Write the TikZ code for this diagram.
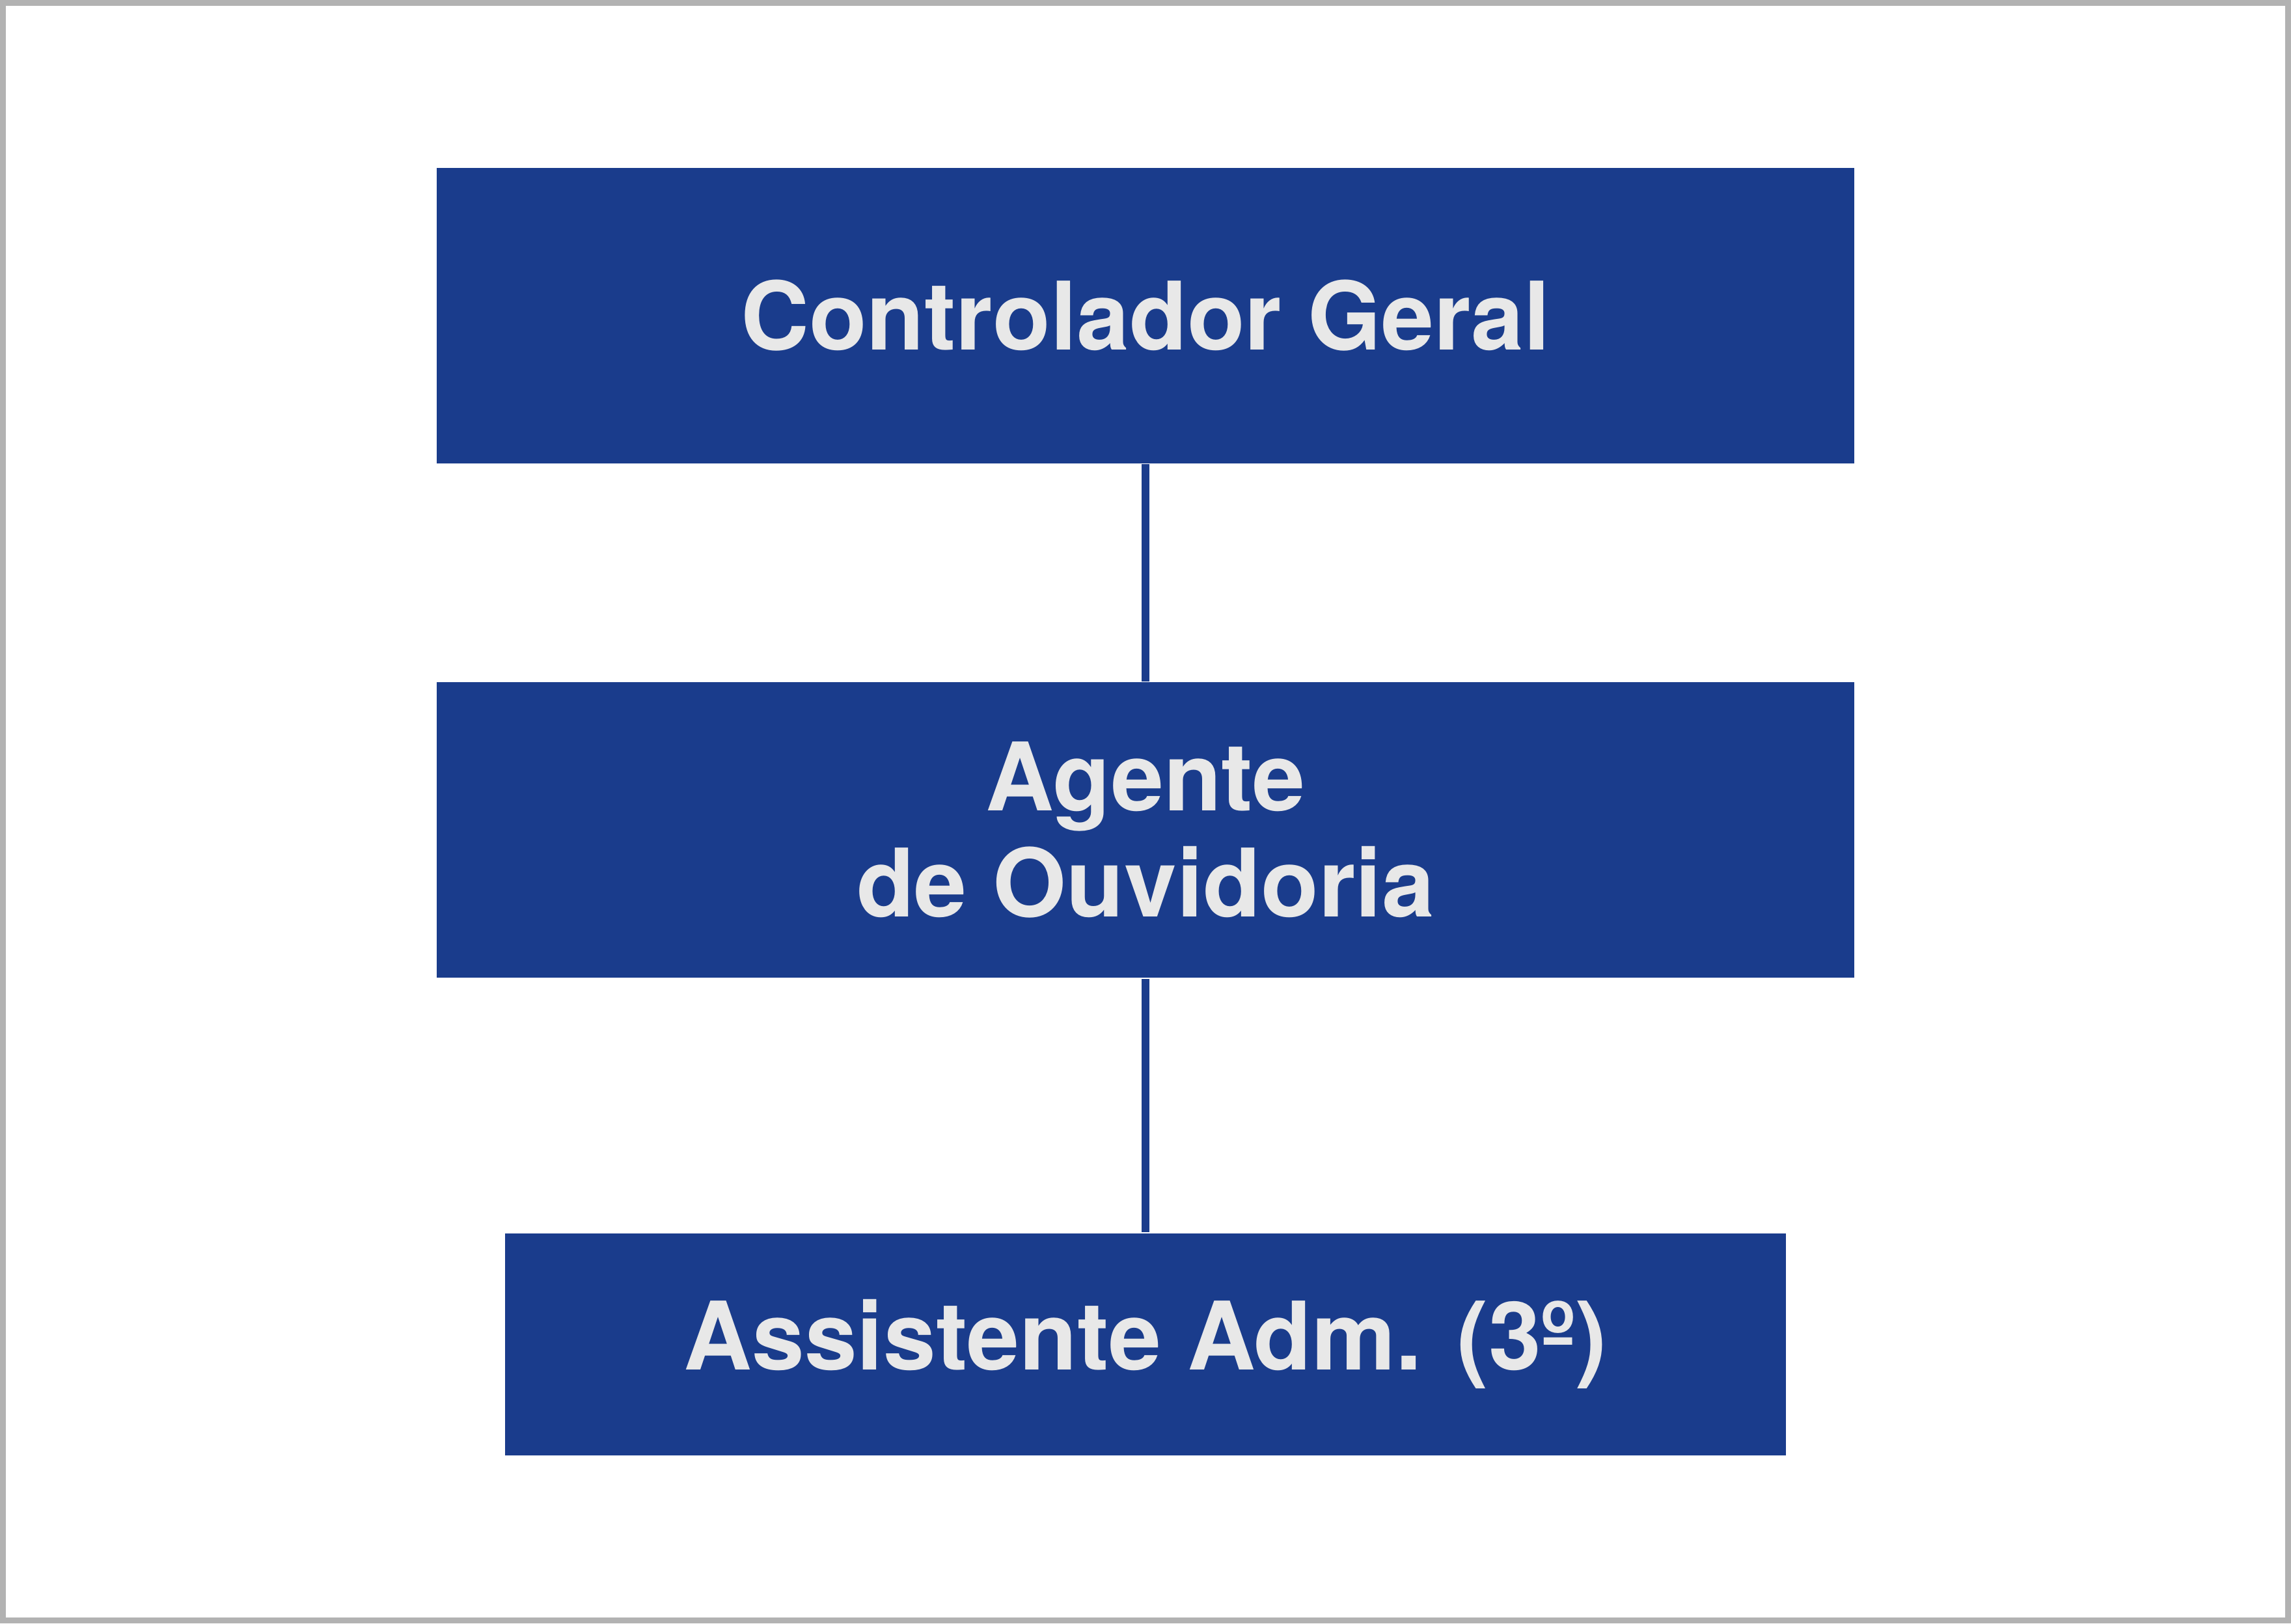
\documentclass[tikz,border=0pt]{standalone}
\usepackage{fontspec}
\setmainfont{TeX Gyre Heros}
\definecolor{boxblue}{HTML}{1A3C8C}
\definecolor{txt}{HTML}{E8E8E8}
\begin{document}
\begin{tikzpicture}[x=0.01cm,y=-0.01cm,
  orgbox/.style={fill=boxblue,draw=none,inner sep=0pt,text=txt,font=\fontsize{18.4}{20.7}\selectfont\bfseries,align=center},
  link/.style={draw=boxblue,line width=1.4pt}]
\useasboundingbox (0,0) rectangle (1568,1111);
\draw[color=black!30,line width=1.2pt] (2,2) rectangle (1566,1109);
\node[orgbox,minimum width=9.70cm,minimum height=2.02cm] (cg) at (784,216) {Controlador Geral};
\node[orgbox,minimum width=9.70cm,minimum height=2.02cm] (ao) at (784,568) {Agente\\de Ouvidoria};
\node[orgbox,minimum width=8.76cm,minimum height=1.52cm] (aa) at (784,920) {Assistente Adm. (3º)};
\draw[link] (cg.south) -- (ao.north);
\draw[link] (ao.south) -- (aa.north);
\end{tikzpicture}
\end{document}
